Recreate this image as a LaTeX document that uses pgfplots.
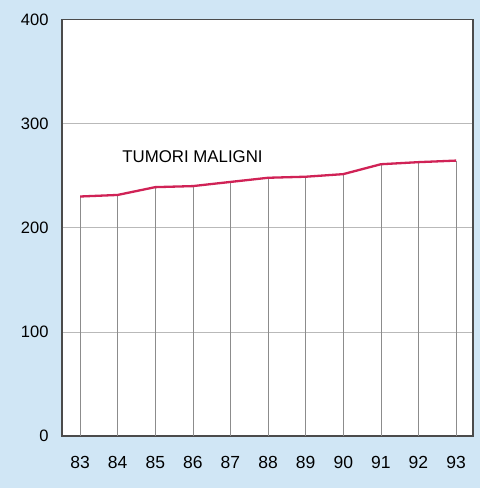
\documentclass[border=0pt]{standalone}
\usepackage{pgfplots}
\pgfplotsset{compat=1.18}
\usepackage{fontspec}
\setmainfont{Liberation Sans}
\definecolor{bgblue}{RGB}{208,230,245}
\definecolor{linered}{RGB}{208,34,86}
\definecolor{axisgray}{RGB}{75,75,75}
\definecolor{gridgray}{RGB}{185,185,185}
\definecolor{combgray}{RGB}{140,140,140}
\begin{document}
\begin{tikzpicture}[x=1pt,y=1pt]
\fill[bgblue] (-62,-52) rectangle (418,436);
\begin{axis}[
  at={(0,0)}, anchor=south west,
  scale only axis, width=411pt, height=416.5pt,
  xmin=82.52, xmax=93.45, ymin=0, ymax=400,
  xtick={83,...,93}, ytick={0,100,200,300,400},
  axis background/.style={fill=white},
  axis line style={draw=axisgray, line width=1.2pt},
  ymajorgrids, major grid style={draw=gridgray, line width=0.6pt},
  major tick length=0pt,
  /pgf/number format/assume math mode=true,
  yticklabel style={font=\fontsize{16.5}{18}\selectfont, xshift=-10pt},
  xticklabel style={font=\fontsize{17.5}{19}\selectfont, yshift=-17pt},
  clip=false,
]
\addplot[ycomb, draw=combgray, line width=0.6pt, mark=none] coordinates {
(83,230) (84,231.5) (85,239) (86,240) (87,244) (88,248) (89,249) (90,251.5) (91,261) (92,263) (93,264.5)
};
\addplot[draw=linered, line width=2.3pt, mark=none] coordinates {
(83,230) (84,231.5) (85,239) (86,240) (87,244) (88,248) (89,249) (90,251.5) (91,261) (92,263) (93,264.5)
};
\node[anchor=west, xscale=0.99, font=\fontsize{17}{20}\selectfont, inner sep=0pt] at (axis cs:84.12,268) {TUMORI MALIGNI};
\end{axis}
\end{tikzpicture}
\end{document}
